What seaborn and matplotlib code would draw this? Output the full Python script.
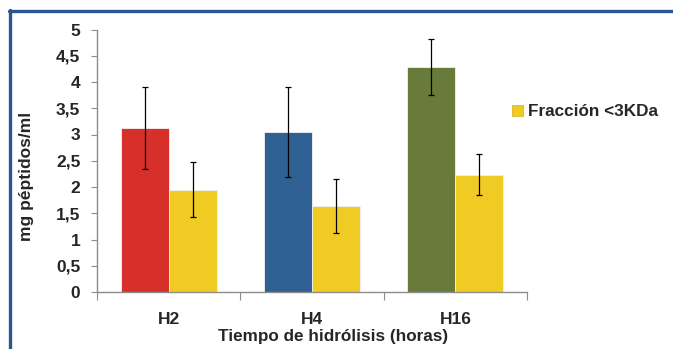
import matplotlib
matplotlib.use("Agg")
import matplotlib.pyplot as plt
from matplotlib.lines import Line2D
from matplotlib.patches import Patch
from matplotlib.ticker import FuncFormatter
import numpy as np
import pandas as pd
import seaborn as sns

# Data: peptide concentration (mg/ml) by hydrolysis time
horas = ["H2", "H4", "H16"]
series = ["Hidrolizado", "Fracción <3KDa"]
hidrolizado = [3.12, 3.05, 4.28]
hidrolizado_err = [0.78, 0.85, 0.53]
fraccion = [1.95, 1.64, 2.23]
fraccion_err = [0.52, 0.51, 0.39]

colores_hidrolizado = ["#D7302B", "#2F6094", "#687B3A"]
color_fraccion = "#EFCB24"

df = pd.DataFrame({
    "hora": horas * 2,
    "serie": [series[0]] * 3 + [series[1]] * 3,
    "valor": hidrolizado + fraccion,
    "err": hidrolizado_err + fraccion_err,
})

sns.set_style("white")
plt.rcParams["font.family"] = ["Liberation Sans", "DejaVu Sans"]
plt.rcParams["font.weight"] = "bold"

fig = plt.figure(figsize=(6.73, 3.49), dpi=100)
ax = fig.add_axes([97 / 673, 1 - 292 / 349, 430 / 673, 262.5 / 349])

sns.barplot(data=df, x="hora", y="valor", hue="serie", order=horas,
            hue_order=series, palette=["#888888", color_fraccion],
            width=0.67, errorbar=None, ax=ax, legend=False,
            edgecolor="#f2f2f2", linewidth=0.6, saturation=1)

# per-category colours for the first series
for patch, col in zip(ax.containers[0], colores_hidrolizado):
    patch.set_facecolor(col)

# error bars
for cont, vals, errs in zip(ax.containers, [hidrolizado, fraccion],
                            [hidrolizado_err, fraccion_err]):
    xs = [p.get_x() + p.get_width() / 2 for p in cont]
    ax.errorbar(xs, vals, yerr=errs, fmt="none", ecolor="black",
                elinewidth=0.9, capsize=2, capthick=0.9, zorder=5)

ax.set_xlim(-0.5, 2.5)
ax.set_ylim(0, 5)
ax.set_yticks(np.arange(0, 5.01, 0.5))
ax.yaxis.set_major_formatter(FuncFormatter(
    lambda v, p: (f"{v:g}").replace(".", ",")))
ax.set_xticks([-0.5, 0.5, 1.5, 2.5], minor=True)

for s in ["top", "right"]:
    ax.spines[s].set_visible(False)
for s in ["left", "bottom"]:
    ax.spines[s].set_color("#8c8c8c")
    ax.spines[s].set_linewidth(1.0)

ax.tick_params(axis="y", which="major", left=True, length=4, width=0.8,
               color="#8c8c8c", labelsize=12.5, pad=8)
ax.tick_params(axis="x", which="major", bottom=False, labelsize=12.5, pad=11)
ax.tick_params(axis="x", which="minor", bottom=True, length=6, width=0.8,
               color="#8c8c8c")
for lab in ax.get_xticklabels() + ax.get_yticklabels():
    lab.set_fontweight("bold")

ax.set_xlabel("Tiempo de hidrólisis (horas)", fontsize=12.3, fontweight="bold")
ax.set_ylabel("mg péptidos/ml", fontsize=12.5, fontweight="bold")
ax.xaxis.set_label_coords(0.549, -0.14)
ax.yaxis.set_label_coords(-0.147, 0.44)

leg = fig.legend(handles=[Patch(facecolor=color_fraccion, edgecolor="#d8b010",
                                 linewidth=0.5, label=series[1])],
                 loc="center left", bbox_to_anchor=(503 / 673, 1 - 112 / 349),
                 frameon=False, handlelength=0.65, handleheight=0.65,
                 handletextpad=0.3, borderpad=0,
                 prop={"weight": "bold", "size": 12.3})

# frame lines along the top and left of the figure
fig.add_artist(Line2D([9 / 673, 1], [1 - 10.5 / 349, 1 - 10.5 / 349],
                      color="#2B5693", linewidth=2.4,
                      transform=fig.transFigure))
fig.add_artist(Line2D([9.5 / 673, 9.5 / 673], [0, 1 - 9.5 / 349],
                      color="#2B5693", linewidth=2.4,
                      transform=fig.transFigure))

fig.savefig("out.png", dpi=100)
